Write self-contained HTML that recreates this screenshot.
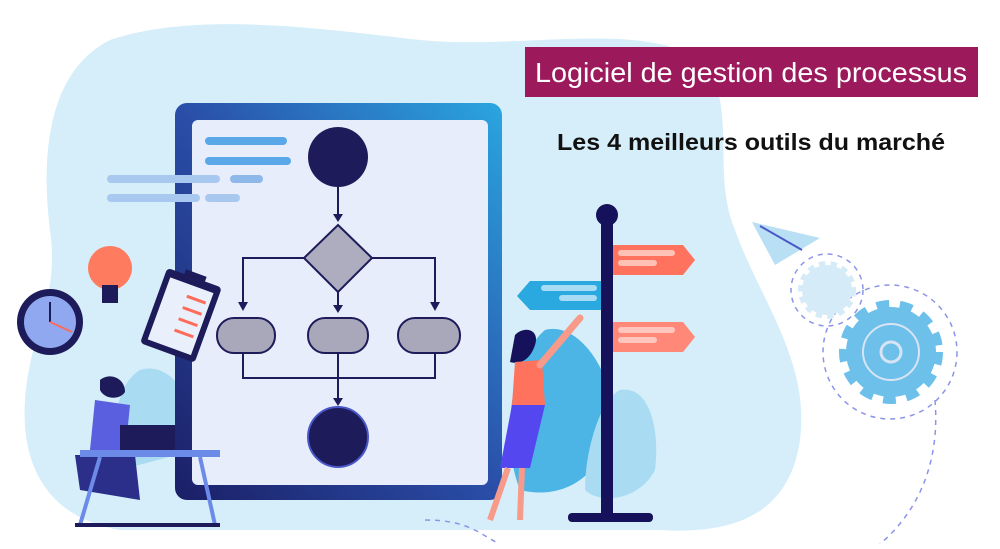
<!DOCTYPE html>
<html><head><meta charset="utf-8"><style>
body{margin:0;width:1000px;height:544px;overflow:hidden;background:#fff;font-family:"Liberation Sans",sans-serif}
</style></head><body>
<svg width="1000" height="544" viewBox="0 0 1000 544" xmlns="http://www.w3.org/2000/svg">
<defs>
<linearGradient id="fr" x1="1" y1="0" x2="0" y2="1"><stop offset="0" stop-color="#2aa6e0"/><stop offset="0.5" stop-color="#2a4ea8"/><stop offset="1" stop-color="#1b1f66"/></linearGradient>
</defs>
<path d="M110,40 C200,10 330,30 420,40 C520,50 640,20 700,60 C740,100 710,170 735,230 C760,300 810,360 800,440 C790,510 740,535 660,530 L120,530 C60,520 20,480 25,400 C30,330 60,300 50,230 C40,150 50,70 110,40 Z" fill="#d5eef9"/>
<path d="M545,330 C580,320 620,380 610,430 C600,480 560,500 520,490 C500,440 510,360 545,330Z" fill="#4cb5e5"/>
<path d="M620,390 C650,385 660,430 655,470 C640,500 600,505 585,490 C585,450 600,400 620,390Z" fill="#a9dbf3"/>
<path d="M140,370 C170,360 200,400 195,450 L120,470 C110,430 115,385 140,370Z" fill="#a9dbf3"/>
<rect x="175" y="103" width="327" height="397" rx="12" fill="url(#fr)"/>
<rect x="192" y="120" width="296" height="365" rx="6" fill="#e7edfb"/>
<g stroke-linecap="round" stroke-width="8">
<line x1="209" y1="141" x2="283" y2="141" stroke="#5aa8e8"/>
<line x1="209" y1="161" x2="287" y2="161" stroke="#5aa8e8"/>
<line x1="111" y1="179" x2="216" y2="179" stroke="#a9c8f0"/>
<line x1="234" y1="179" x2="259" y2="179" stroke="#8fb8ea"/>
<line x1="111" y1="198" x2="196" y2="198" stroke="#a9c8f0"/>
<line x1="209" y1="198" x2="236" y2="198" stroke="#a9c8f0"/>
</g>
<g stroke="#1e1b5a" stroke-width="2" fill="none">
<line x1="338" y1="187" x2="338" y2="218"/>
<polyline points="304,258 243,258 243,303"/>
<polyline points="372,258 435,258 435,303"/>
<line x1="338" y1="292" x2="338" y2="308"/>
<polyline points="243,353 243,378 435,378 435,353"/>
<line x1="338" y1="353" x2="338" y2="400"/>
</g>
<g fill="#1e1b5a">
<polygon points="333,214 343,214 338,222"/>
<polygon points="238,302 248,302 243,311"/>
<polygon points="430,302 440,302 435,311"/>
<polygon points="333,305 343,305 338,313"/>
<polygon points="333,398 343,398 338,406"/>
</g>
<circle cx="338" cy="157" r="30" fill="#1e1b5a"/>
<polygon points="338,225 372,258 338,292 304,258" fill="#aeadc0" stroke="#1e1b5a" stroke-width="2"/>
<g fill="#a9a8bb" stroke="#1e1b5a" stroke-width="2">
<rect x="217" y="318" width="58" height="35" rx="17"/>
<rect x="308" y="318" width="60" height="35" rx="17"/>
<rect x="398" y="318" width="62" height="35" rx="17"/>
</g>
<circle cx="338" cy="437" r="30" fill="#1e1b5a" stroke="#4a57c8" stroke-width="2"/>
<circle cx="50" cy="322" r="33" fill="#1e1b5a"/><circle cx="50" cy="322" r="26" fill="#8fa8f0"/>
<line x1="50" y1="322" x2="50" y2="302" stroke="#1e1b5a" stroke-width="2"/><line x1="50" y1="322" x2="72" y2="332" stroke="#ff6b5a" stroke-width="2"/>
<circle cx="110" cy="268" r="22" fill="#ff7b60"/><rect x="102" y="285" width="16" height="18" fill="#1e1b5a"/>
<g transform="rotate(20 180 315)"><rect x="152" y="275" width="58" height="80" rx="4" fill="#1e1b5a"/><rect x="158" y="283" width="46" height="66" fill="#e9f0fb"/><rect x="170" y="270" width="22" height="10" fill="#1e1b5a"/>
<g stroke="#ff6b5a" stroke-width="3"><line x1="180" y1="295" x2="200" y2="295"/><line x1="180" y1="307" x2="200" y2="307"/><line x1="180" y1="319" x2="200" y2="319"/><line x1="180" y1="331" x2="200" y2="331"/></g></g>
<path d="M100,380 C110,372 125,378 125,392 C120,400 105,400 100,390Z" fill="#1e1b5a"/>
<path d="M95,400 L130,405 L125,455 L90,450Z" fill="#5a5fe0"/>
<path d="M75,455 L135,455 L140,500 L80,490Z" fill="#2b2f8a"/>
<rect x="120" y="425" width="55" height="30" fill="#1e1b5a"/>
<rect x="80" y="450" width="140" height="7" fill="#6c8be8"/>
<line x1="100" y1="457" x2="80" y2="525" stroke="#6c8be8" stroke-width="4"/><line x1="200" y1="457" x2="215" y2="525" stroke="#6c8be8" stroke-width="4"/>
<rect x="75" y="523" width="145" height="4" fill="#1e1b5a"/>
<polygon points="612,245 683,245 695,260 683,275 612,275" fill="#ff725e"/>
<polygon points="605,281 530,281 517,296 530,310 605,310" fill="#2aa8e0"/>
<polygon points="612,322 683,322 695,337 683,352 612,352" fill="#ff8878"/>
<g stroke-linecap="round" stroke-width="6"><line x1="621" y1="253" x2="672" y2="253" stroke="#ffc0b6"/><line x1="621" y1="263" x2="654" y2="263" stroke="#ffc0b6"/><line x1="544" y1="288" x2="594" y2="288" stroke="#a8dcf4"/><line x1="562" y1="298" x2="594" y2="298" stroke="#a8dcf4"/><line x1="621" y1="330" x2="672" y2="330" stroke="#ffc6be"/><line x1="621" y1="340" x2="654" y2="340" stroke="#ffc6be"/></g>
<rect x="601" y="215" width="12" height="305" fill="#15115a"/><circle cx="607" cy="215" r="11" fill="#15115a"/>
<rect x="568" y="513" width="85" height="9" rx="4" fill="#15115a"/>
<path d="M515,335 C525,325 540,330 535,345 C530,360 520,365 510,362Z" fill="#15115a"/>
<path d="M515,362 L542,360 L545,405 L512,405Z" fill="#ff725e"/>
<line x1="540" y1="365" x2="580" y2="318" stroke="#f89a8a" stroke-width="7" stroke-linecap="round"/>
<path d="M512,405 L545,405 L530,468 L500,468Z" fill="#5447f0"/>
<line x1="508" y1="468" x2="490" y2="520" stroke="#f89a8a" stroke-width="6"/><line x1="522" y1="468" x2="520" y2="520" stroke="#f89a8a" stroke-width="6"/>
<polygon points="752,222 820,238 775,265" fill="#b9dff5"/>
<line x1="760" y1="226" x2="802" y2="250" stroke="#4a57c8" stroke-width="2"/>
<g fill="none" stroke="#8b94e8" stroke-width="1.5" stroke-dasharray="5 5">
<circle cx="827" cy="290" r="36"/><circle cx="890" cy="352" r="67"/>
<path d="M935,400 C940,460 920,510 880,544"/><path d="M425,520 C470,520 480,535 500,544"/>
</g>
<circle cx="827" cy="290" r="25" fill="#d5ecf8" stroke="#d5ecf8" stroke-width="8" stroke-dasharray="6 5"/>
<circle cx="891" cy="352" r="45" fill="#6cc0ea" stroke="#6cc0ea" stroke-width="14" stroke-dasharray="12 10"/>
<circle cx="891" cy="352" r="28" fill="none" stroke="#d8e4f4" stroke-width="2"/>
<circle cx="891" cy="352" r="10" fill="none" stroke="#d8e4f4" stroke-width="3"/>
<rect x="525" y="47" width="453" height="50" fill="#9c1a5c"/>
<text x="751" y="82" text-anchor="middle" fill="#fff" font-size="28" textLength="432" lengthAdjust="spacingAndGlyphs" font-family="Liberation Sans, sans-serif">Logiciel de gestion des processus</text>
<text x="751" y="150" text-anchor="middle" fill="#111" font-size="23" font-weight="bold" textLength="388" lengthAdjust="spacingAndGlyphs" font-family="Liberation Sans, sans-serif">Les 4 meilleurs outils du marché</text>
</svg>
</body></html>
